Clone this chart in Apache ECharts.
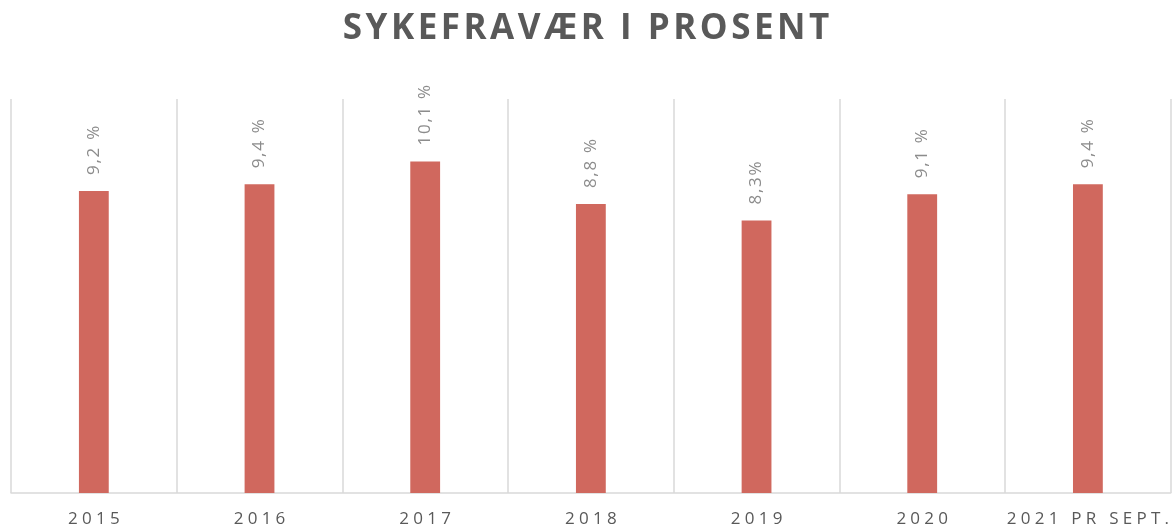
<!DOCTYPE html>
<html>
<head>
<meta charset="utf-8">
<script src="https://cdn.jsdelivr.net/npm/echarts@6/dist/echarts.min.js"></script>
<style>
    html, body { margin: 0; padding: 0; background: #fff; }
    #chart { width: 1172px; height: 529px; }
</style>
</head>
<body>
<div id="chart"></div>
<script>
// kategorier og verdier
const categories = ['2015', '2016', '2017', '2018', '2019', '2020', '2021 PR SEPT.'];
const values = [9.2, 9.4, 10.1, 8.8, 8.3, 9.1, 9.4];
const valueLabels = ['9,2 %', '9,4 %', '10,1 %', '8,8 %', '8,3%', '9,1 %', '9,4 %'];

// sperrede bokstaver
const spaced = (s, sp) => s.split('').join(sp);

const chart = echarts.init(document.getElementById('chart'));

const option = {
    animation: false,
    title: {
        text: spaced('SYKEFRAVÆR I PROSENT', '\u200A'),
        left: 'center',
        top: 7,
        textStyle: {
            fontFamily: 'Open Sans',
            fontWeight: 'bold',
            fontSize: 35,
            color: '#595959'
        }
    },
    grid: {
        left: 11,
        right: 1,
        top: 99,
        bottom: 36
    },
    xAxis: {
        type: 'category',
        data: categories,
        boundaryGap: true,
        axisLine: { lineStyle: { color: '#d9d9d9', width: 1.5 } },
        axisTick: { show: false },
        splitLine: { show: true, interval: 0, lineStyle: { color: '#d9d9d9', width: 1.5 } },
        axisLabel: {
            interval: 0,
            margin: 18,
            fontFamily: 'Open Sans',
            fontSize: 17,
            color: '#595959',
            formatter: (v) => spaced(v, '\u2005')
        }
    },
    yAxis: {
        type: 'value',
        min: 0,
        max: 12,
        show: false,
        splitLine: { show: false }
    },
    series: [
        {
            type: 'bar',
            data: values,
            barWidth: '18%',
            itemStyle: { color: '#d0685e' },
            label: {
                show: true,
                position: 'top',
                rotate: 90,
                align: 'left',
                verticalAlign: 'middle',
                distance: 16,
                fontFamily: 'Open Sans',
                fontSize: 17,
                color: '#8c8c8c',
                formatter: (p) => spaced(valueLabels[p.dataIndex], '\u200A')
            }
        }
    ]
};

chart.setOption(option);
</script>
</body>
</html>
